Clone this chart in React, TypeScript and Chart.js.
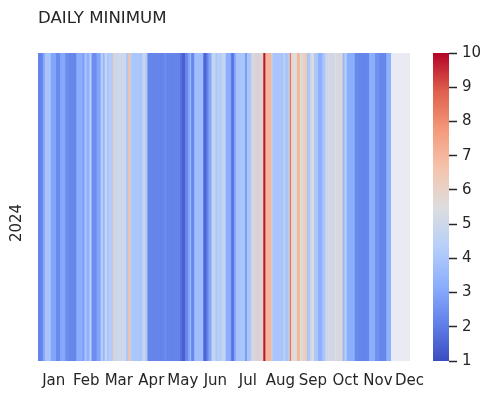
import React, { useEffect, useRef } from 'react';
import { Chart, registerables } from 'chart.js';
Chart.register(...registerables);

const chartTitle = 'DAILY MINIMUM';
const rowLabel = '2024';
const monthLabels = ['Jan', 'Feb', 'Mar', 'Apr', 'May', 'Jun', 'Jul', 'Aug', 'Sep', 'Oct', 'Nov', 'Dec'];
const monthTickDays = [15, 47, 79, 111, 142, 174, 206, 238, 270, 302, 334, 365];
const vmin = 1;
const vmax = 10;

// Daily minimum values, one per day of 2024 (null = no data)
const jan = [2.2, 2.2, 2.2, 2.2, 2.2, 3, 3, 4, 4, 4, 4, 4, 4, 3, 3, 3, 3, 3, 2.3, 2.3, 2.3, 2.3, 3, 3, 3, 3, 3, 2.5, 2.3, 2.3, 2.3];
const feb = [2.2, 2.2, 2.2, 2.2, 2.2, 2.2, 2.2, 3.2, 3.2, 3.2, 3.2, 3.2, 3.2, 2.8, 2.8, 4, 4, 3.3, 3.3, 3.3, 4.5, 4.5, 2.4, 2.4, 2.4, 2.4, 2.4, 3, 3];
const mar = [3, 3, 4.5, 4.5, 3.5, 3.5, 5, 5, 4, 4, 4.2, 4.2, 4.2, 4.2, 6.5, 5, 5, 5, 5, 5, 5, 5, 5, 5, 5, 5, 5, 4, 4, 6.8, 6.8];
const apr = [4.5, 4, 4, 4, 4, 4, 4, 4, 4, 4, 4, 4, 4.8, 4.8, 5, 4, 4.5, 2.2, 2.2, 2.2, 2.2, 2.2, 2.2, 2.2, 2.2, 2.2, 2.2, 2.2, 2.2, 2.2];
const may = [2.2, 2.2, 2.2, 2.2, 2.6, 2.2, 2.2, 2.2, 2.2, 2.2, 2.2, 2.2, 2.2, 2.2, 2.2, 2.2, 2.2, 2.2, 2.2, 1.8, 1.8, 1.4, 1.4, 1.4, 2.2, 2.2, 2.2, 3, 3, 3.5, 2.2];
const jun = [2.2, 2.2, 3.7, 3.7, 3.7, 3.7, 3.7, 3.7, 3.7, 3.7, 3.7, 1.5, 1.5, 1.5, 2.2, 2.2, 3, 3, 3, 4.8, 4.8, 4.8, 4.8, 4, 4, 4.8, 4.2, 4.2, 4.2, 4.8];
const jul = [4.8, 4.8, 4.8, 3.2, 3.2, 3.2, 3.2, 3.2, 2.2, 1.8, 1.8, 3, 3, 4, 4, 4, 4, 4, 4, 4, 4, 4, 2.8, 2.8, 4, 4, 4, 4, 5, 5, 6];
const aug = [6, 4.8, 4.8, 6.3, 6.3, 5, 5, 6, 6, 9.8, 9.8, 7, 7, 7, 7, 7, 7, 5, 4, 4, 4, 4, 4, 4, 4, 4, 4, 4, 4, 5, 4];
const sep = [4, 4, 4, 5.5, 9, 6, 6, 5.5, 5.5, 5.5, 5.5, 7, 7, 7, 5.5, 5.5, 6, 6, 6, 6.5, 6.5, 4, 4, 4, 5, 5, 5.5, 5.5, 4, 4];
const oct = [4, 4, 3.2, 3.2, 3.2, 3.2, 4, 4, 4, 5, 5, 5, 5.8, 5, 5, 5, 5, 5, 5.5, 5.5, 5, 6, 5, 5, 5.8, 5.8, 3.5, 3.5, 4.5, 4.5, 3.2];
const nov = [3.2, 3.2, 3.2, 3.2, 3.2, 3.2, 3.2, 2.3, 2.3, 2.3, 2.3, 2.2, 2.2, 2.2, 2.2, 2.2, 2.2, 2.2, 2.2, 2.2, 2.2, 3.2, 3.2, 3.2, 3.2, 3.2, 3.2, 2.4, 2.4, 2.4];
const dec = [2.4, 2.2, 2.2, 2.2, 2.2, 2.2, 2.2, 2.2, 3.3, 3.3, 3.3, 3.3,
  null, null, null, null, null, null, null, null, null, null, null, null, null, null, null, null, null, null, null];

const values: (number | null)[] = [...jan, ...feb, ...mar, ...apr, ...may, ...jun, ...jul, ...aug, ...sep, ...oct, ...nov, ...dec];

const coolwarmStops: [number, [number, number, number]][] = [
  [0.0, [59, 76, 192]],
  [0.125, [98, 130, 234]],
  [0.25, [141, 176, 254]],
  [0.375, [184, 208, 249]],
  [0.5, [221, 221, 221]],
  [0.625, [245, 196, 173]],
  [0.75, [244, 154, 123]],
  [0.875, [222, 96, 77]],
  [1.0, [180, 4, 38]],
];

function coolwarm(t: number): string {
  const x = Math.max(0, Math.min(1, t));
  for (let i = 0; i < coolwarmStops.length - 1; i++) {
    const [t0, c0] = coolwarmStops[i];
    const [t1, c1] = coolwarmStops[i + 1];
    if (x >= t0 && x <= t1) {
      const f = (x - t0) / (t1 - t0);
      const r = Math.round(c0[0] + (c1[0] - c0[0]) * f);
      const g = Math.round(c0[1] + (c1[1] - c0[1]) * f);
      const b = Math.round(c0[2] + (c1[2] - c0[2]) * f);
      return `rgb(${r},${g},${b})`;
    }
  }
  return 'rgb(180,4,38)';
}

const TEXT = '#262626';
const FAMILY = '"DejaVu Sans", sans-serif';
const TICK_SIZE = 15;

const bgPlugin = {
  id: 'bgPlugin',
  beforeDatasetsDraw(chart: any) {
    const { ctx, chartArea } = chart;
    ctx.save();
    ctx.fillStyle = '#EAEAF2';
    ctx.fillRect(chartArea.left, chartArea.top, chartArea.right - chartArea.left, chartArea.bottom - chartArea.top);
    ctx.restore();
  },
};

// Row label (rotated), placed beside the single heatmap row
const rowLabelPlugin = {
  id: 'rowLabelPlugin',
  afterDraw(chart: any) {
    const { ctx, chartArea } = chart;
    ctx.save();
    ctx.translate(17, (chartArea.top + chartArea.bottom) / 2 + 16);
    ctx.rotate(-Math.PI / 2);
    ctx.fillStyle = TEXT;
    ctx.font = `${TICK_SIZE}px ${FAMILY}`;
    ctx.textAlign = 'center';
    ctx.textBaseline = 'middle';
    ctx.fillText(rowLabel, 0, 0);
    ctx.restore();
  },
};

export default function App() {
  const mainRef = useRef<HTMLCanvasElement>(null);
  const cbRef = useRef<HTMLCanvasElement>(null);

  useEffect(() => {
    const days: string[] = [];
    const start = new Date(2024, 0, 1);
    for (let i = 0; i < values.length; i++) {
      const d = new Date(start.getTime() + i * 86400000);
      days.push(d.toISOString().slice(0, 10));
    }

    const main = new Chart(mainRef.current!, {
      type: 'bar',
      data: {
        labels: days,
        datasets: [
          {
            data: values.map((v) => (v == null ? null : 1)),
            backgroundColor: values.map((v) => (v == null ? 'rgba(0,0,0,0)' : coolwarm((v - vmin) / (vmax - vmin)))),
            borderWidth: 0,
            barPercentage: 1,
            categoryPercentage: 1,
          },
        ],
      },
      options: {
        responsive: false,
        maintainAspectRatio: false,
        animation: false,
        layout: { padding: { top: 0, right: 81, bottom: 0, left: 0 } },
        plugins: {
          legend: { display: false },
          tooltip: { enabled: false },
          title: {
            display: true,
            text: chartTitle,
            align: 'start',
            fullSize: false,
            color: TEXT,
            font: { family: FAMILY, size: 16.6, weight: 'normal' },
            padding: { top: 8.5, bottom: 24.6 },
          },
        },
        scales: {
          x: {
            grid: { display: false, drawTicks: false },
            border: { display: false },
            ticks: {
              autoSkip: false,
              maxRotation: 0,
              minRotation: 0,
              padding: 11,
              color: TEXT,
              font: { family: FAMILY, size: TICK_SIZE },
              callback: (_v: any, i: number) => monthLabels[i],
            },
            afterBuildTicks: (s: any) => {
              s.ticks = monthTickDays.map((v) => ({ value: v }));
            },
            afterFit: (s: any) => {
              s.height = 38;
            },
          },
          y: {
            min: 0,
            max: 1,
            grid: { display: false, drawTicks: false },
            border: { display: false },
            ticks: { display: false },
            afterFit: (s: any) => {
              s.width = 38;
            },
          },
        },
      } as any,
      plugins: [bgPlugin, rowLabelPlugin],
    });

    const cb = new Chart(cbRef.current!, {
      type: 'bar',
      data: {
        labels: [''],
        datasets: [
          {
            data: [[vmin, vmax]] as any,
            backgroundColor: (ctx: any) => {
              const chart = ctx.chart;
              const area = chart.chartArea;
              if (!area) return '#cccccc';
              const g = chart.ctx.createLinearGradient(0, area.bottom, 0, area.top);
              coolwarmStops.forEach(([t, c]) => g.addColorStop(t, `rgb(${c[0]},${c[1]},${c[2]})`));
              return g;
            },
            borderWidth: 0,
            barPercentage: 1,
            categoryPercentage: 1,
            inflateAmount: 0,
          } as any,
        ],
      },
      options: {
        responsive: false,
        maintainAspectRatio: false,
        animation: false,
        layout: { padding: { top: 53, right: 0, bottom: 38, left: 13 } },
        plugins: { legend: { display: false }, tooltip: { enabled: false } },
        scales: {
          x: { display: false },
          y: {
            position: 'right',
            min: vmin,
            max: vmax,
            ticks: { stepSize: 1, padding: 5, color: TEXT, font: { family: FAMILY, size: TICK_SIZE } },
            grid: { drawOnChartArea: false, drawTicks: true, tickLength: 8, tickColor: '#262626', tickWidth: 1.5 },
            border: { display: false },
            afterFit: (s: any) => {
              s.width = 42;
            },
          },
        },
      } as any,
    });

    return () => {
      main.destroy();
      cb.destroy();
    };
  }, []);

  return (
    <div style={{ position: 'fixed', left: 0, top: 0, width: 491, height: 399, background: '#ffffff' }}>
      <canvas ref={mainRef} width={491} height={399} style={{ position: 'absolute', left: 0, top: 0 }} />
      <canvas ref={cbRef} width={71} height={399} style={{ position: 'absolute', left: 420, top: 0 }} />
    </div>
  );
}
